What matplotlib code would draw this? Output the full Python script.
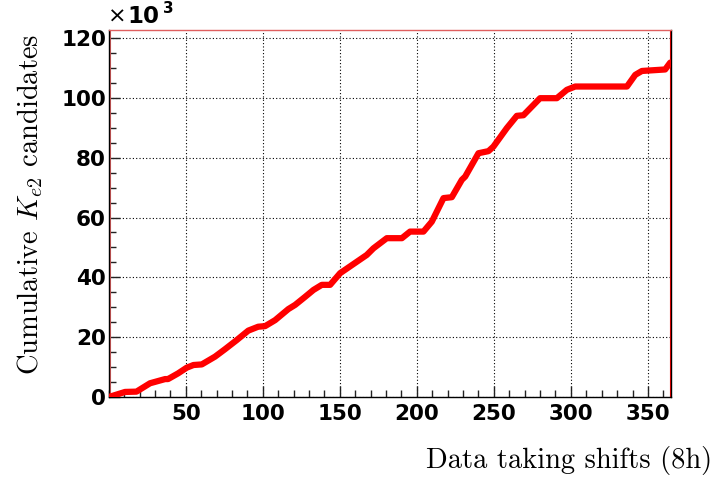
import matplotlib
matplotlib.use("Agg")
import matplotlib.pyplot as plt
from matplotlib.ticker import MultipleLocator

plt.rcParams['mathtext.fontset'] = 'cm'

# Data: shift number vs cumulative candidates (x10^3)
shifts = [0, 5, 10.6, 18, 26.8, 36.6, 38.5, 45, 50.6, 55, 60.4, 69, 75.5, 83,
          90.6, 97, 101.5, 108, 116.6, 121, 127.5, 132.9, 138.3, 143.7, 150.2,
          167.5, 171.8, 180.5, 190.3, 195.6, 204.3, 209.7, 217.3, 222.7, 229.2,
          231.4, 240, 246.5, 249.7, 258.4, 264.9, 269.2, 280, 290.9, 297.4,
          302.8, 336.4, 341.8, 346.1, 361.2, 364.5]
cumulative = [0, 0.8, 1.7, 1.8, 4.6, 6.0, 6.0, 7.9, 9.8, 10.7, 10.9, 13.5, 16,
              19, 22.2, 23.5, 23.7, 25.7, 29.4, 30.8, 33.5, 35.8, 37.5, 37.5,
              41.4, 47.5, 49.7, 53.1, 53.1, 55.3, 55.3, 58.6, 66.5, 66.8, 72.6,
              73.7, 81.5, 82.2, 83.7, 89.9, 94, 94.2, 99.9, 99.9, 102.7, 103.8,
              103.8, 107.7, 109, 109.5, 111.8]
xticks = [50, 100, 150, 200, 250, 300, 350]
yticks = [0, 20, 40, 60, 80, 100, 120]

fig = plt.figure(figsize=(7.14, 4.82), dpi=100)
ax = fig.add_axes([0.1523, 0.1763, 0.9398 - 0.1523, 0.9378 - 0.1763])

ax.plot(shifts, cumulative, color='#ff0000', lw=4.5, solid_capstyle='round',
        solid_joinstyle='round', zorder=3)

ax.set_xlim(0, 365)
ax.set_ylim(0, 122.7)
ax.set_xticks(xticks)
ax.set_yticks(yticks)
ax.xaxis.set_minor_locator(MultipleLocator(10))
ax.yaxis.set_minor_locator(MultipleLocator(5))
ax.tick_params(which='both', direction='in', top=False, right=False,
               color='#222222', width=1)
ax.tick_params(which='major', length=8)
ax.tick_params(which='minor', length=5)
ax.tick_params(axis='x', which='major', pad=5)
ax.tick_params(axis='y', which='major', pad=2)
for lab in ax.get_xticklabels() + ax.get_yticklabels():
    lab.set_fontfamily('DejaVu Sans')
    lab.set_fontweight('bold')
    lab.set_fontsize(15.5)

ax.grid(True, which='major', linestyle=(0, (1, 2)), color='black', lw=0.8)
ax.set_axisbelow(True)

for s in ['left', 'bottom']:
    ax.spines[s].set_color('black')
    ax.spines[s].set_linewidth(1)
ax.spines['top'].set_color('#e06060')
ax.spines['top'].set_linewidth(1)
ax.spines['right'].set_color('black')
ax.spines['right'].set_linewidth(1)
ax.axvline(1.0, color='#e06060', lw=0.8, zorder=2)
ax.axvline(364.4, color='#ff0000', lw=0.8, zorder=2)

fig.text(0.151, 0.952, '\u00d7', fontfamily='DejaVu Sans', fontsize=16,
         ha='left', va='baseline')
fig.text(0.179, 0.952, '10', fontfamily='DejaVu Sans', fontweight='bold',
         fontsize=16.5, ha='left', va='baseline')
fig.text(0.2285, 0.972, '3', fontfamily='DejaVu Sans', fontweight='bold',
         fontsize=11, ha='left', va='baseline')

fig.text(0.997, 0.03, 'Data taking shifts (8h)', fontfamily='cmr10',
         fontsize=20.5, ha='right', va='baseline')
fig.text(0.042, 0.577, r'Cumulative $K_{e2}$ candidates', fontfamily='cmr10',
         fontsize=20.5, ha='center', va='center', rotation=90)

fig.savefig('out.png', dpi=100)
